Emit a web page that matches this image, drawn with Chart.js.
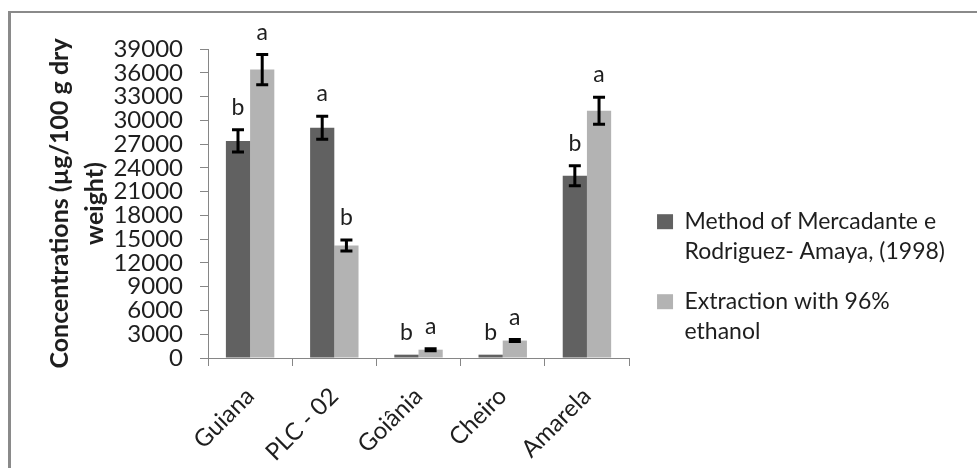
<!DOCTYPE html>
<html><head><meta charset="utf-8">
<script src="https://cdn.jsdelivr.net/npm/chart.js@4.4.0/dist/chart.umd.min.js"></script>
<style>
html,body{margin:0;padding:0;background:#fff;}
#wrap{position:relative;width:977px;height:468px;overflow:hidden;}
#frame{position:absolute;left:8px;top:11px;width:980px;height:470px;border-left:3px solid #8a8a8a;border-top:2px solid #8a8a8a;pointer-events:none;}
canvas{position:absolute;left:0;top:0;}
</style></head><body>
<div id="wrap"><canvas id="c" width="977" height="468"></canvas><div id="frame"></div></div>
<script>
const categories = ['Guiana', 'PLC - 02', 'Goiânia', 'Cheiro', 'Amarela'];
const methodValues = [27400, 29050, 420, 420, 23000];
const methodErrors = [1400, 1450, 0, 0, 1250];
const methodLetters = ['b', 'a', 'b', 'b', 'b'];
const ethanolValues = [36400, 14200, 1050, 2200, 31200];
const ethanolErrors = [1900, 700, 120, 120, 1700];
const ethanolLetters = ['a', 'b', 'a', 'a', 'a'];
const seriesNames = [['Method of Mercadante e', 'Rodriguez- Amaya, (1998)'], ['Extraction with 96%', 'ethanol']];
const yTitle = ['Concentrations (µg/100 g dry', 'weight)'];
const yMin = 0, yMax = 39000, yStep = 3000;

const AXIS = '#868686';
const TEXT = '#1e1e1e';
const FONT = 'Lato, "Open Sans", sans-serif';

const errorBarPlugin = {
  id: 'errbars',
  afterDatasetsDraw(chart) {
    const ctx = chart.ctx, ys = chart.scales.y;
    chart.data.datasets.forEach((ds, di) => {
      const meta = chart.getDatasetMeta(di);
      meta.data.forEach((bar, i) => {
        const v = ds.data[i], e = ds.errors[i];
        const x = bar.x;
        const top = ys.getPixelForValue(v + e), bot = ys.getPixelForValue(v - e);
        ctx.save();
        if (e > 0) {
          ctx.strokeStyle = '#000';
          ctx.lineWidth = 3;
          ctx.beginPath();
          ctx.moveTo(x, top); ctx.lineTo(x, bot);
          ctx.moveTo(x - 6, top); ctx.lineTo(x + 6, top);
          ctx.moveTo(x - 6, bot); ctx.lineTo(x + 6, bot);
          ctx.stroke();
        }
        ctx.fillStyle = TEXT;
        ctx.font = '23px ' + FONT;
        ctx.textAlign = 'center';
        ctx.textBaseline = 'alphabetic';
        ctx.fillText(ds.letters[i], x, Math.min(top, bar.y) - 15);
        ctx.restore();
      });
    });
  }
};

new Chart(document.getElementById('c'), {
  type: 'bar',
  data: {
    labels: categories,
    datasets: [
      { label: seriesNames[0], data: methodValues, errors: methodErrors, letters: methodLetters,
        backgroundColor: '#616161', borderWidth: 0, barPercentage: 1, categoryPercentage: 0.575 },
      { label: seriesNames[1], data: ethanolValues, errors: ethanolErrors, letters: ethanolLetters,
        backgroundColor: '#b3b3b3', borderWidth: 0, barPercentage: 1, categoryPercentage: 0.575 }
    ]
  },
  options: {
    responsive: false,
    animation: false,
    devicePixelRatio: 1,
    layout: { padding: { left: 42, top: 49, right: 22, bottom: 0 } },
    plugins: {
      tooltip: { enabled: false },
      legend: {
        position: 'right',
        align: 'start',
        maxWidth: 360,
        title: { display: true, text: ' ', font: { size: 1 }, padding: { top: 140, bottom: 0 } },
        labels: {
          color: TEXT,
          font: { family: FONT, size: 23, lineHeight: '30px' },
          boxWidth: 16, boxHeight: 15, padding: 20,
          generateLabels(chart) {
            return chart.data.datasets.map((ds, i) => ({
              text: ds.label, fillStyle: ds.backgroundColor, strokeStyle: ds.backgroundColor,
              lineWidth: 0, hidden: false, datasetIndex: i, fontColor: TEXT
            }));
          }
        }
      }
    },
    scales: {
      x: {
        afterFit(s) { s.height = 110; },
        grid: { display: true, drawOnChartArea: false, offset: true, tickLength: 8, color: AXIS, tickColor: AXIS },
        border: { display: true, color: AXIS, width: 1 },
        ticks: { color: TEXT, font: { family: FONT, size: 24 }, minRotation: 45, maxRotation: 45, padding: 16, autoSkip: false }
      },
      y: {
        min: yMin, max: yMax,
        afterFit(s) { s.width = 166; },
        grid: { display: true, drawOnChartArea: false, tickLength: 8, color: AXIS, tickColor: AXIS },
        border: { display: true, color: AXIS, width: 1 },
        ticks: { color: TEXT, font: { family: FONT, size: 24 }, stepSize: yStep, autoSkip: false, padding: 17,
                 callback: (v) => String(v) },
        title: { display: true, text: yTitle, color: TEXT, font: { family: FONT, size: 25, weight: 'bold', lineHeight: '35px' }, padding: { top: 0, bottom: 0 } }
      },
      y2: {
        position: 'right', display: true,
        afterFit(s) { s.width = 8; },
        grid: { display: false }, border: { display: false }, ticks: { display: false }
      }
    }
  },
  plugins: [errorBarPlugin]
});
</script>
</body></html>
